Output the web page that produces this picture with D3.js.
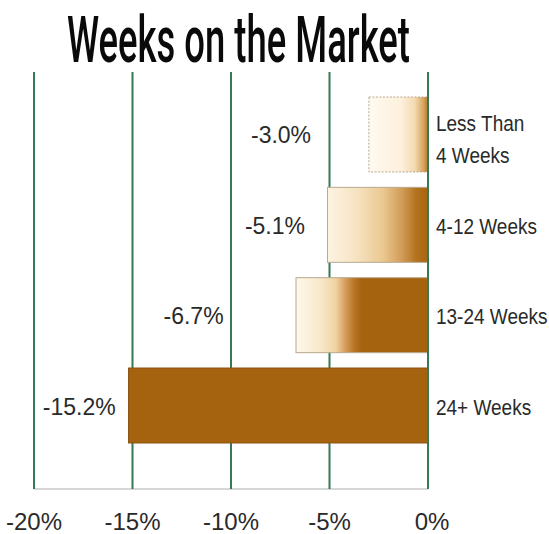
<!DOCTYPE html>
<html>
<head>
<meta charset="utf-8">
<script src="https://cdn.jsdelivr.net/npm/d3@7"></script>
<style>
  html, body { margin: 0; padding: 0; background: #ffffff; }
  svg { display: block; }
</style>
</head>
<body>
<svg id="chart" width="549" height="534"></svg>
<script>
// ---- data ----
const title = "Weeks on the Market";
const categories = ["Less Than\n4 Weeks", "4-12 Weeks", "13-24 Weeks", "24+ Weeks"];
const values = [-3.0, -5.1, -6.7, -15.2];
const valueLabels = ["-3.0%", "-5.1%", "-6.7%", "-15.2%"];
const tickValues = [-20, -15, -10, -5, 0];
const tickLabels = ["-20%", "-15%", "-10%", "-5%", "0%"];

// ---- layout ----
const svg = d3.select("#chart");
const x = d3.scaleLinear().domain([-20, 0]).range([34, 428]);
const y = d3.scaleBand().domain(categories).range([97, 443]).paddingInner(0.17).paddingOuter(0);
const gridTop = 72, gridBottom = 489;

// gradients per bar (fade from cream to brown toward zero)
const brown = "#a5630f";
const gradStops = [
  [[0, "#fffaf0"], [0.55, "#fdf0dc"], [0.78, "#f3d9b0"], [0.92, "#d9a560"], [1, "#b9782a"]],
  [[0, "#fdf4e3"], [0.3, "#f6e2c0"], [0.55, "#ebc890"], [0.75, "#cf9a55"], [0.88, "#b3731f"], [1, "#a86510"]],
  [[0, "#fef7ea"], [0.18, "#f9e9cc"], [0.3, "#efd3a4"], [0.36, "#dca66a"], [0.44, "#b97525"], [0.5, brown], [1, brown]],
  [[0, brown], [1, brown]]
];
const defs = svg.append("defs");
gradStops.forEach((stops, i) => {
  const g = defs.append("linearGradient").attr("id", "g" + i)
    .attr("x1", "0%").attr("x2", "100%").attr("y1", "0%").attr("y2", "0%");
  stops.forEach(s => g.append("stop").attr("offset", s[0]).attr("stop-color", s[1]));
});

// baseline
svg.append("line")
  .attr("x1", x(-20)).attr("x2", x(0)).attr("y1", gridBottom).attr("y2", gridBottom)
  .attr("stroke", "#c9c9c9").attr("stroke-width", 1.5);

// gridlines
svg.append("g").selectAll("line").data(tickValues).join("line")
  .attr("x1", d => x(d)).attr("x2", d => x(d))
  .attr("y1", gridTop).attr("y2", gridBottom)
  .attr("stroke", "#357a52").attr("stroke-width", 2);

// bars
svg.append("g").selectAll("rect").data(values).join("rect")
  .attr("x", d => x(d))
  .attr("y", (d, i) => y(categories[i]))
  .attr("width", d => x(0) - x(d))
  .attr("height", y.bandwidth())
  .attr("fill", (d, i) => `url(#g${i})`)
  .attr("stroke", (d, i) => i === 3 ? "#8a5210" : "#b8a890")
  .attr("stroke-width", 1)
  .attr("stroke-dasharray", (d, i) => i === 0 ? "2,1.5" : null);

// zero line on top of bars
svg.append("line")
  .attr("x1", x(0)).attr("x2", x(0)).attr("y1", gridTop).attr("y2", gridBottom)
  .attr("stroke", "#357a52").attr("stroke-width", 2);

// value labels (placed in data units, left of the bars)
const labelAt = [-7.46, -7.77, -11.9, -17.7];
svg.append("g").selectAll("text").data(valueLabels).join("text")
  .attr("x", (d, i) => x(labelAt[i]))
  .attr("y", (d, i) => y(categories[i]) + y.bandwidth() / 2 + 9)
  .attr("text-anchor", "middle")
  .attr("font-family", "'Liberation Sans', Arial, sans-serif")
  .attr("font-size", 23)
  .attr("fill", "#2a2a2a")
  .text(d => d);

// category labels (drawn smaller and stretched vertically for a condensed look)
const cat = svg.append("g").selectAll("text").data(categories).join("text")
  .attr("transform", d => `translate(${x(0) + 8},${y(d) + y.bandwidth() / 2 + (d.includes("\n") ? -3 : 9)}) scale(1,1.2)`)
  .attr("font-family", "'Liberation Sans', Arial, sans-serif")
  .attr("font-size", 19)
  .attr("fill", "#2a2a2a");
cat.each(function(d) {
  const lines = d.split("\n");
  d3.select(this).selectAll("tspan").data(lines).join("tspan")
    .attr("x", 0)
    .attr("dy", (l, j) => j === 0 ? 0 : 26)
    .text(l => l);
});

// x axis tick labels
svg.append("g").selectAll("text").data(tickValues).join("text")
  .attr("x", d => x(d) + (d === 0 ? 4 : 0))
  .attr("y", 530)
  .attr("text-anchor", "middle")
  .attr("font-family", "'Liberation Sans', Arial, sans-serif")
  .attr("font-size", 24)
  .attr("fill", "#2a2a2a")
  .text((d, i) => tickLabels[i]);

// title (tall, condensed)
svg.append("text")
  .attr("transform", "translate(67,62) scale(1,1.9)")
  .attr("font-family", "Roboto, 'Liberation Sans', Arial, sans-serif")
  .attr("font-size", 34)
  .attr("font-weight", 500)
  .attr("textLength", 343)
  .attr("lengthAdjust", "spacingAndGlyphs")
  .attr("fill", "#0a0a0a")
  .text(title);
</script>
</body>
</html>
